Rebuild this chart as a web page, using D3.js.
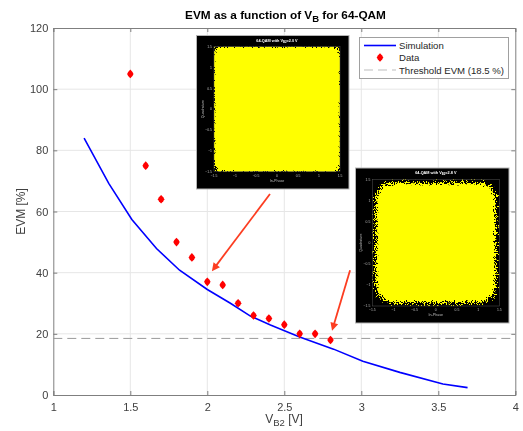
<!DOCTYPE html>
<html>
<head>
<meta charset="utf-8">
<script src="https://cdn.jsdelivr.net/npm/d3@7"></script>
<style>
  html, body { margin: 0; padding: 0; background: #fff; }
  svg { display: block; filter: blur(0.3px); }
  text { font-family: "Liberation Sans", Arial, sans-serif; }
</style>
</head>
<body>
<div id="chart"></div>
<script>
const WIDTH = 523, HEIGHT = 431;

// simulated curve
const simV = [1.2, 1.36, 1.51, 1.67, 1.82, 2.0, 2.15, 2.28, 2.41, 2.6, 2.82, 3.01, 3.25, 3.53, 3.69];
const simEVM = [84, 69.2, 57.4, 47.9, 40.8, 34.5, 30, 25.8, 22.9, 19, 15, 11, 7.4, 3.6, 2.4];

// measured points
const dataV = [1.5, 1.6, 1.7, 1.8, 1.9, 2.0, 2.1, 2.2, 2.3, 2.4, 2.5, 2.6, 2.7, 2.8];
const dataEVM = [105, 75, 64, 50, 45, 37, 36, 30, 26, 25, 23, 20, 20, 18];

const THRESHOLD = 18.5;
const xTicks = [1, 1.5, 2, 2.5, 3, 3.5, 4];
const yTicks = [0, 20, 40, 60, 80, 100, 120];
const insetTicks = [-1.5, -1, -0.5, 0, 0.5, 1, 1.5];

const svg = d3.select("#chart").append("svg")
  .attr("width", WIDTH)
  .attr("height", HEIGHT);

const x = d3.scaleLinear().domain([1, 4]).range([53.3, 515.3]);
const y = d3.scaleLinear().domain([0, 120]).range([395, 28]);

//filters for the speckled constellation edge
const defs = svg.append("defs");
function addSpeckle(id, blur, seed) {
  const f = defs.append("filter").attr("id", id)
    .attr("x", "-20%").attr("y", "-20%").attr("width", "140%").attr("height", "140%")
    .attr("color-interpolation-filters", "sRGB");
  f.append("feTurbulence").attr("type", "fractalNoise").attr("baseFrequency", 1.1)
    .attr("numOctaves", 2).attr("seed", seed).attr("result", "noise");
  f.append("feColorMatrix").attr("in", "noise").attr("type", "matrix")
    .attr("values", "0 0 0 0 0  0 0 0 0 0  0 0 0 0 0  3 0 0 0 -1").attr("result", "grain");
  f.append("feGaussianBlur").attr("in", "SourceAlpha").attr("stdDeviation", blur).attr("result", "soft");
  f.append("feComposite").attr("in", "soft").attr("in2", "grain").attr("operator", "arithmetic")
    .attr("k1", 0).attr("k2", 2.2).attr("k3", 1).attr("k4", -1.1).attr("result", "mix");
  f.append("feComponentTransfer").attr("in", "mix").attr("result", "hard")
    .append("feFuncA").attr("type", "linear").attr("slope", 12).attr("intercept", 0);
  f.append("feFlood").attr("flood-color", "#ffff00").attr("result", "col");
  f.append("feComposite").attr("in", "col").attr("in2", "hard").attr("operator", "in");
}
addSpeckle("speckleA", 4, 4);
addSpeckle("speckleB", 4.5, 9);

// grid
const grid = svg.append("g").attr("stroke", "#e6e6e6").attr("stroke-width", 1);
grid.selectAll(".gx").data(xTicks.slice(1, -1)).enter().append("line")
  .attr("x1", d => x(d)).attr("x2", d => x(d)).attr("y1", y(0)).attr("y2", y(120));
grid.selectAll(".gy").data(yTicks.slice(1, -1)).enter().append("line")
  .attr("x1", x(1)).attr("x2", x(4)).attr("y1", d => y(d)).attr("y2", d => y(d));

// axes, box style with inward ticks
function styleAxis(g) {
  g.selectAll("text").attr("font-size", 11).attr("fill", "#404040")
    .style("font-family", '"Liberation Sans", Arial, sans-serif');
  g.selectAll("line,path").attr("stroke", "#7f7f7f");
}
svg.append("g").attr("transform", `translate(0,${y(0)})`)
  .call(d3.axisBottom(x).tickValues(xTicks).tickFormat(d3.format("~g")).tickSize(-4).tickPadding(8))
  .call(styleAxis);
svg.append("g").attr("transform", `translate(0,${y(120)})`)
  .call(d3.axisTop(x).tickValues(xTicks).tickFormat("").tickSize(-4))
  .call(styleAxis);
svg.append("g").attr("transform", `translate(${x(1)},0)`)
  .call(d3.axisLeft(y).tickValues(yTicks).tickSize(-4).tickPadding(5))
  .call(styleAxis);
svg.append("g").attr("transform", `translate(${x(4)},0)`)
  .call(d3.axisRight(y).tickValues(yTicks).tickFormat("").tickSize(-4))
  .call(styleAxis);

// threshold
svg.append("line")
  .attr("x1", x(1)).attr("x2", x(4))
  .attr("y1", y(THRESHOLD)).attr("y2", y(THRESHOLD))
  .attr("stroke", "#9a9a9a").attr("stroke-width", 1).attr("stroke-dasharray", "9,5");

// simulation
const line = d3.line().x(d => x(d[0])).y(d => y(d[1]));
svg.append("path")
  .datum(d3.zip(simV, simEVM))
  .attr("d", line)
  .attr("fill", "none").attr("stroke", "#0000ff").attr("stroke-width", 1.6);

// data diamonds
const diamond = "M0,-4.3 L2.2,-2 L3.2,0 L2.2,2 L0,4.3 L-2.2,2 L-3.2,0 L-2.2,-2 Z";
svg.selectAll(".pt").data(d3.zip(dataV, dataEVM)).enter().append("path")
  .attr("class", "pt")
  .attr("transform", d => `translate(${x(d[0])},${y(d[1])})`)
  .attr("d", diamond)
  .attr("fill", "#ff0000");

// inset constellation plots
function inset(box, inner, label, filterId, corner, spread) {
  const g = svg.append("g");
  g.append("rect")
    .attr("x", box.x0).attr("y", box.y0)
    .attr("width", box.x1 - box.x0).attr("height", box.y1 - box.y0)
    .attr("fill", "#000").attr("stroke", "#b5b5b5").attr("stroke-width", 1);

  const ix = d3.scaleLinear().domain([-1.5, 1.5]).range([inner.x0, inner.x1]);
  const iy = d3.scaleLinear().domain([-1.5, 1.5]).range([inner.y1, inner.y0]);
  const clipId = "clip" + filterId;
  defs.append("clipPath").attr("id", clipId).append("rect")
    .attr("x", inner.x0).attr("y", inner.y0)
    .attr("width", inner.x1 - inner.x0).attr("height", inner.y1 - inner.y0);

  g.append("g").attr("clip-path", `url(#${clipId})`)
    .append("rect")
    .attr("x", ix(-spread)).attr("y", iy(spread))
    .attr("width", ix(spread) - ix(-spread)).attr("height", iy(-spread) - iy(spread))
    .attr("rx", corner).attr("ry", corner)
    .attr("fill", "#ffff00")
    .attr("filter", `url(#${filterId})`);

  g.append("rect")
    .attr("x", inner.x0).attr("y", inner.y0)
    .attr("width", inner.x1 - inner.x0).attr("height", inner.y1 - inner.y0)
    .attr("fill", "none").attr("stroke", "#555").attr("stroke-width", 0.5);

  const tick = d3.format("~g");
  g.selectAll(".ixl").data(insetTicks).enter().append("text")
    .attr("x", d => ix(d)).attr("y", inner.y1 + 5)
    .attr("text-anchor", "middle").attr("font-size", 3.4).attr("fill", "#bdbdbd")
    .text(d => d === 1.5 || d === -1.5 ? d3.format(".1f")(d) : tick(d));
  g.selectAll(".iyl").data(insetTicks).enter().append("text")
    .attr("x", inner.x0 - 2).attr("y", d => iy(d) + 1.2)
    .attr("text-anchor", "end").attr("font-size", 3.4).attr("fill", "#bdbdbd")
    .text(d => tick(d));

  g.append("text")
    .attr("x", (inner.x0 + inner.x1) / 2).attr("y", inner.y1 + 10)
    .attr("text-anchor", "middle").attr("font-size", 3.6).attr("fill", "#bdbdbd")
    .text("In-Phase");
  g.append("text")
    .attr("transform", `translate(${inner.x0 - 10},${(inner.y0 + inner.y1) / 2}) rotate(-90)`)
    .attr("text-anchor", "middle").attr("font-size", 3.6).attr("fill", "#bdbdbd")
    .text("Quadrature");

  const t = g.append("text")
    .attr("x", (inner.x0 + inner.x1) / 2).attr("y", inner.y0 - 5)
    .attr("text-anchor", "middle").attr("font-size", 3.8).attr("font-weight", "bold").attr("fill", "#fff");
  t.append("tspan").text("64-QAM with V");
  t.append("tspan").attr("font-size", 2.8).attr("dy", 1).text("B2");
  t.append("tspan").attr("dy", -1).text("=" + label + " V");
}
inset({ x0: 196.5, x1: 349, y0: 35.5, y1: 189 }, { x0: 214, x1: 340, y0: 46.7, y1: 171.7 }, "2.0", "speckleA", 3, 1.47);
inset({ x0: 355.5, x1: 509, y0: 168, y1: 323 }, { x0: 372.3, x1: 499.3, y0: 179.3, y1: 306 }, "2.8", "speckleB", 14, 1.36);

// arrows pointing at the two inset operating points
const arrowStarts = [[2.407, 65.7], [2.927, 40.8]];
const arrowTips = [[2.03, 40.5], [2.81, 21]];
arrowStarts.forEach((s, i) => {
  const t = arrowTips[i];
  const x0 = x(s[0]), y0 = y(s[1]), x1 = x(t[0]), y1 = y(t[1]);
  const ang = Math.atan2(y1 - y0, x1 - x0) * 180 / Math.PI;
  const len = Math.hypot(x1 - x0, y1 - y0);
  const g = svg.append("g").attr("transform", `translate(${x0},${y0}) rotate(${ang})`);
  g.append("line").attr("x2", len - 6).attr("stroke", "#fc3d21").attr("stroke-width", 1.8);
  g.append("path").attr("d", `M${len},0 L${len - 8},-4 L${len - 8},4 Z`).attr("fill", "#fc3d21");
});

// legend
const legend = svg.append("g");
legend.append("rect")
  .attr("x", 359.5).attr("y", 37.5).attr("width", 149).attr("height", 41)
  .attr("fill", "#fff").attr("stroke", "#a0a0a0").attr("stroke-width", 1);
const legendNames = ["Simulation", "Data", "Threshold EVM (18.5 %)"];
const legendY = [45.5, 57.5, 70];
legend.selectAll(".lt").data(legendNames).enter().append("text")
  .attr("x", 399).attr("y", (d, i) => legendY[i] + 3.5)
  .attr("font-size", 9.6).attr("fill", "#262626")
  .text(d => d);
legend.append("line").attr("x1", 364).attr("x2", 396).attr("y1", legendY[0]).attr("y2", legendY[0])
  .attr("stroke", "#0000ff").attr("stroke-width", 1.6);
legend.append("path").attr("transform", `translate(380,${legendY[1]})`).attr("d", diamond).attr("fill", "#ff0000");
legend.append("line").attr("x1", 364).attr("x2", 396).attr("y1", legendY[2]).attr("y2", legendY[2])
  .attr("stroke", "#bdbdbd").attr("stroke-width", 1).attr("stroke-dasharray", "9,5");

// title and axis labels
const title = svg.append("text")
  .attr("x", 285.5).attr("y", 19)
  .attr("text-anchor", "middle").attr("font-size", 11.8).attr("font-weight", "bold").attr("fill", "#000");
title.append("tspan").text("EVM as a function of V");
title.append("tspan").attr("font-size", 9.5).attr("dy", 3).text("B");
title.append("tspan").attr("dy", -3).text(" for 64-QAM");

const xl = svg.append("text")
  .attr("x", 284).attr("y", 423)
  .attr("text-anchor", "middle").attr("font-size", 12).attr("fill", "#404040");
xl.append("tspan").text("V");
xl.append("tspan").attr("font-size", 9.5).attr("dy", 3).text("B2");
xl.append("tspan").attr("dy", -3).text(" [V]");

svg.append("text")
  .attr("transform", `translate(25,${y(60)}) rotate(-90)`)
  .attr("text-anchor", "middle").attr("font-size", 12).attr("fill", "#404040")
  .text("EVM [%]");
</script>
</body>
</html>
